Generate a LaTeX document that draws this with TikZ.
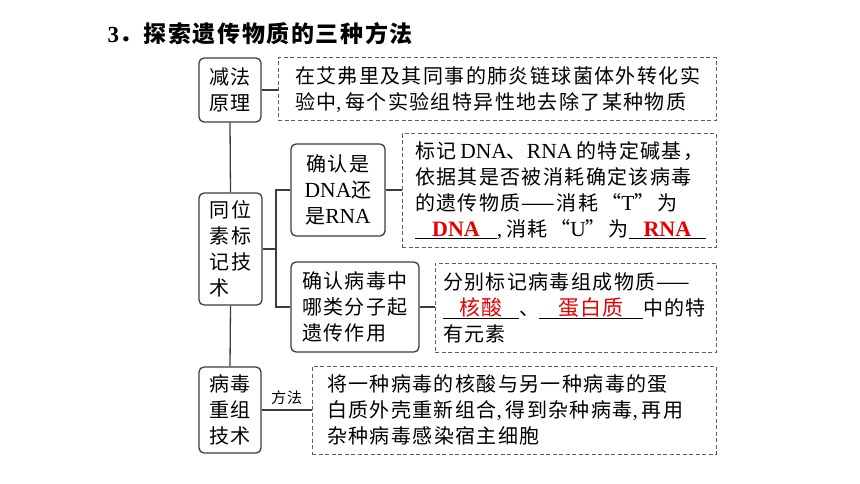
\documentclass[tikz,border=0pt]{standalone}
\usepackage{fontspec}
\setmainfont{Liberation Serif}
\newfontfamily\cjk[LetterSpace=7]{Noto Sans CJK SC}
\usetikzlibrary{positioning}
\definecolor{line1}{RGB}{60,60,60}
\definecolor{dash1}{RGB}{95,95,95}
\definecolor{red1}{RGB}{230,0,0}
\newcommand{\lat}[1]{{\rmfamily\fontsize{21.5}{26}\selectfont #1}}
\newcommand{\cm}{{\rmfamily,}\kern4pt}
\newcommand{\qt}[1]{\kern3pt“\lat{#1}”\kern3pt}
\newcommand{\blank}[2]{\underline{\makebox[#1][c]{\textcolor{red1}{#2}}}}
\newcommand{\bigred}[1]{{\rmfamily\bfseries\fontsize{22}{22}\selectfont #1}}

\begin{document}
\begin{tikzpicture}[x=1pt, y=-1pt,
  solidbox/.style={draw=line1, line width=1.3pt, rounded corners=5pt, inner sep=0pt,
    align=center, font=\cjk\fontsize{20}{26}\selectfont},
  dashbox/.style={draw=dash1, line width=1pt, dash pattern=on 4pt off 2.5pt, inner ysep=0pt,
    align=left, font=\cjk\fontsize{20}{26}\selectfont},
  link/.style={draw=line1, line width=1.3pt}]
\useasboundingbox (0,0) rectangle (860,484);

% title
\node[anchor=west, font=\cjk\bfseries\fontsize{23}{24}\selectfont] (title) at (104,34)
  {\textbf{\rmfamily 3}．探索遗传物质的三种方法};

% left column
\node[solidbox, minimum width=62, minimum height=64] (jianfa) at (230,90) {减法\\原理};
\node[solidbox, minimum width=63, minimum height=112, align=left] (tongwei) at (230.5,249)
  {同位\\素标\\记技\\术};
\node[solidbox, minimum width=62, minimum height=86] (bingdu) at (230,410) {病毒\\重组\\技术};

% middle column
\node[solidbox, minimum width=94, minimum height=92] (queren1) at (338,190)
  {确认是\\\lat{DNA}还\\是\lat{RNA}};
\node[solidbox, minimum width=128, minimum height=90, align=left] (queren2) at (355,307)
  {确认病毒中\\哪类分子起\\遗传作用};

% dashed boxes
\node[dashbox, minimum height=63, text width=404, inner xsep=17] (text1) at (497,89.5)
  {在艾弗里及其同事的肺炎链球菌体外转化实\\验中\cm 每个实验组特异性地去除了某种物质};
\node[dashbox, minimum height=113, text width=288, inner xsep=13] (text2) at (559,190.5)
  {标记\kern4pt\lat{DNA}、\lat{RNA}\kern4pt 的特定碱基，\\依据其是否被消耗确定该病毒\\的遗传物质——消耗\qt{T}为\\
   \mbox{\blank{82pt}{\bigred{DNA}}\cm 消耗\qt{U}为\blank{77pt}{\bigred{RNA}}}};
\node[dashbox, minimum height=89, text width=265, inner xsep=8] (text3) at (575.5,307.5)
  {分别标记病毒组成物质——\\
   \mbox{\blank{76pt}{\fontsize{21}{21}\selectfont 核酸}、\blank{104pt}{\fontsize{21}{21}\selectfont 蛋白质}中的特}\\
   有元素};
\node[dashbox, minimum height=88, text width=374, inner xsep=15] (text4) at (514,410)
  {将一种病毒的核酸与另一种病毒的蛋\\白质外壳重新组合\cm 得到杂种病毒\cm 再用\\杂种病毒感染宿主细胞};

% connectors
\draw[link] (jianfa.south) -- (tongwei.north);
\draw[link] (tongwei.south) -- (bingdu.north);
\draw[link] (jianfa.east) -- (jianfa.east -| text1.west);
\coordinate (fork) at (276,249);
\draw[link] (tongwei.east) -- (fork);
\draw[link] (queren1.west) -| (fork) |- (queren2.west);
\draw[link] (queren1.east) -- (queren1.east -| text2.west);
\draw[link] (queren2.east) -- (queren2.east -| text3.west);
\draw[link] (bingdu.east) -- (bingdu.east -| text4.west)
  node[midway, above=1pt, font=\cjk\fontsize{15}{15}\selectfont] (fangfa) {方法};
\end{tikzpicture}
\end{document}
